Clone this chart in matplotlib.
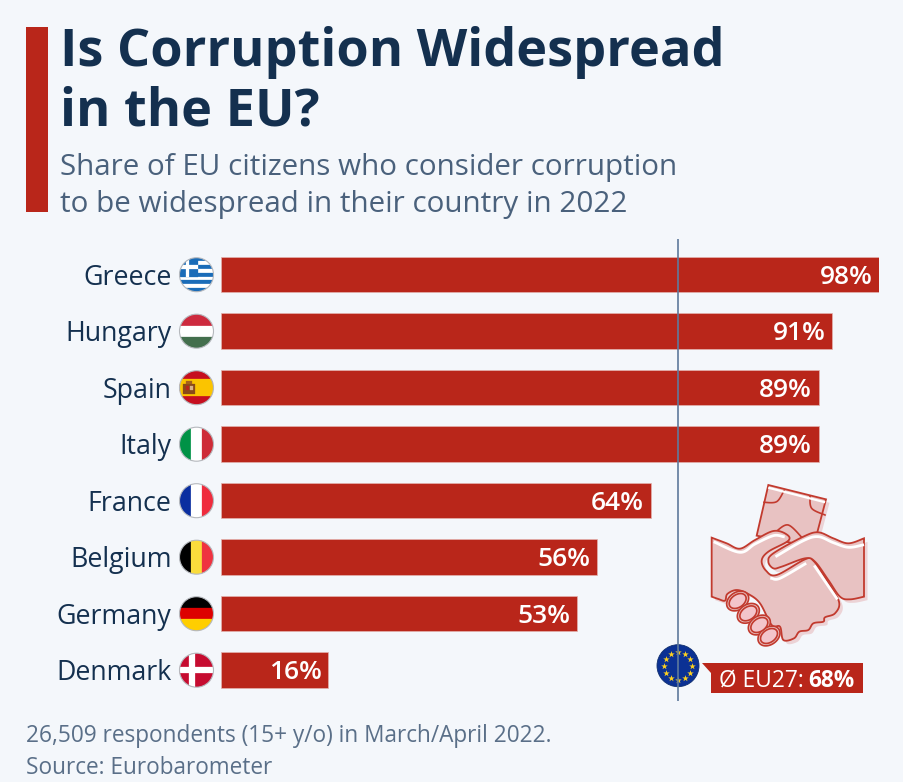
import numpy as np
import matplotlib
matplotlib.use("Agg")
import matplotlib.pyplot as plt
from matplotlib.patches import Circle, Rectangle, Polygon
from matplotlib.markers import MarkerStyle

countries = ["Greece", "Hungary", "Spain", "Italy", "France", "Belgium", "Germany", "Denmark"]
shares = [98, 91, 89, 89, 64, 56, 53, 16]
eu_average = 68

title_lines = ["Is Corruption Widespread", "in the EU?"]
subtitle_lines = ["Share of EU citizens who consider corruption",
                  "to be widespread in their country in 2022"]
footer_lines = ["26,509 respondents (15+ y/o) in March/April 2022.", "Source: Eurobarometer"]

BG = "#f4f7fb"
RED = "#b9261a"
NAVY = "#14304f"
SUB = "#4a617c"
FOOT = "#5a6f88"
W, H = 904, 782
FONT = "Open Sans"
plt.rcParams["font.family"] = [FONT, "DejaVu Sans"]

fig = plt.figure(figsize=(W / 100, H / 100), dpi=100, facecolor=BG)

# overlay in pixel coordinates (layout, flags, illustration)
ov = fig.add_axes([0, 0, 1, 1], zorder=1)
ov.set_xlim(0, W); ov.set_ylim(H, 0); ov.axis("off"); ov.patch.set_alpha(0)

# data axes
X0, X1 = 221, 879
Y_FIRST, STEP = 274.7, 56.5
TOP, BOT = 239, 701
ax = fig.add_axes([X0 / W, 1 - BOT / H, (X1 - X0) / W, (BOT - TOP) / H], zorder=2)
ax.patch.set_alpha(0)
ax.set_xlim(0, max(shares))
ax.set_ylim((BOT - Y_FIRST) / STEP, (TOP - Y_FIRST) / STEP)
ax.axis("off")
ypos = np.arange(len(countries))
ax.barh(ypos, shares, height=35.5 / STEP, color=RED, edgecolor="#e3b3ae", linewidth=0.5, zorder=2)
ax.axvline(eu_average, color="#5f7a9c", lw=1.2, zorder=3)
for y, v in zip(ypos, shares):
    ax.annotate(f"{v}%", (v, y), xytext=(-4.8, 0.3), textcoords="offset points",
                ha="right", va="center_baseline", color="white", fontsize=19, fontweight="semibold", zorder=4)

# header
ov.add_patch(Rectangle((26, 27), 22, 185, color=RED, lw=0))
for t, yb in zip(title_lines, (66, 126)):
    ov.text(59.8, yb, t, fontsize=37.6, fontweight="bold", color=NAVY, va="baseline")
for t, yb in zip(subtitle_lines, (175, 212)):
    ov.text(60, yb, t, fontsize=21.35, color=SUB, va="baseline")
for t, yb in zip(footer_lines, (742, 774)):
    ov.text(26.5, yb, t, fontsize=16.3, color=FOOT, va="baseline")

# flags
FX, R = 196.5, 17


def flag(i, draw):
    cy = Y_FIRST + STEP * i
    clip = Circle((FX, cy), R, transform=ov.transData)
    for p in draw(cy):
        ov.add_patch(p)
        p.set_clip_path(clip)
    ov.add_patch(Circle((FX, cy), R, fill=False, ec="#b5b8bd", lw=0.8))


def rect(x, y, w, h, c):
    return Rectangle((x, y), w, h, fc=c, ec=c, lw=0.2)


def hstripes(cols):
    def d(cy):
        h = 2 * R / len(cols)
        return [rect(FX - R, cy - R + k * h, 2 * R, h, c) for k, c in enumerate(cols)]
    return d


def vstripes(cols):
    def d(cy):
        w = 2 * R / len(cols)
        return [rect(FX - R + k * w, cy - R, w, 2 * R, c) for k, c in enumerate(cols)]
    return d


def greece(cy):
    b, w = "#1a6cb8", "white"
    h = 2 * R / 9
    out = [rect(FX - R, cy - R + k * h, 2 * R, h, b if k % 2 == 0 else w) for k in range(9)]
    out.append(rect(FX - R, cy - R, 5 * h, 5 * h, b))
    out.append(rect(FX - R, cy - R + 2 * h, 5 * h, h, w))
    out.append(rect(FX - R + 1.6 * h, cy - R, h, 5 * h, w))
    return out


def spain(cy):
    return [rect(FX - R, cy - R, 2 * R, 2 * R, "#c60f1f"),
            rect(FX - R, cy - R / 2, 2 * R, R, "#fbc400"),
            rect(FX - 13, cy - 4, 12, 10, "#8a4a18"),
            rect(FX - 10, cy - 7, 6, 3, "#a5601c"),
            rect(FX - 10, cy - 2, 3, 4, "#b8251c"),
            rect(FX - 6.5, cy - 2, 3, 4, "#d9b48a")]


def denmark(cy):
    c = "#c60c30"
    return [rect(FX - R, cy - R, 2 * R, 2 * R, c),
            rect(FX - R, cy - 2.8, 2 * R, 5.6, "white"),
            rect(FX - 7.5, cy - R, 5.6, 2 * R, "white")]


flags = [greece,
         hstripes(["#cd2a3e", "white", "#436f4d"]),
         spain,
         vstripes(["#009246", "white", "#ce2b37"]),
         vstripes(["#0a2ea0", "white", "#ef2b3d"]),
         vstripes(["#000000", "#fadc3c", "#ef3340"]),
         hstripes(["#000000", "#dd0000", "#ffce00"]),
         denmark]
for i, (name, fl) in enumerate(zip(countries, flags)):
    flag(i, fl)
    ov.text(171.5, Y_FIRST + STEP * i - 0.5, name, ha="right", va="center_baseline", fontsize=19.3, color=NAVY)


# illustration; outlines written in zoom-crop units
def zp(pts):
    a = np.asarray(pts, float)
    return a / 3 + np.array([640, 470])


def smooth(pts, n=10):
    p = np.asarray(pts, float)
    q = np.vstack([p[0], p, p[-1]])
    out = []
    for k in range(1, len(q) - 2):
        p0, p1, p2, p3 = q[k - 1], q[k], q[k + 1], q[k + 2]
        for t in np.linspace(0, 1, n, endpoint=False):
            out.append(0.5 * ((2 * p1) + (-p0 + p2) * t + (2 * p0 - 5 * p1 + 4 * p2 - p3) * t ** 2
                              + (-p0 + 3 * p1 - 3 * p2 + p3) * t ** 3))
    out.append(p[-1])
    return np.array(out)


PINK, SHADOW, LINE = "#e8c2c2", "#ecd3d6", "#c23a2e"
money = zp([(385, 45), (558, 88), (520, 232), (350, 197)])
left_hand = [(215, 203), (260, 220), (300, 236), (345, 210), (400, 183), (438, 192), (445, 212), (385, 245), (365, 272),
             (378, 302), (410, 315), (495, 268), (520, 272), (560, 330), (597, 395), (585, 430), (555, 442), (550, 455),
             (520, 460), (505, 480), (478, 485), (462, 505), (430, 510), (420, 470), (395, 465), (360, 400), (325, 372),
             (290, 360), (262, 372), (255, 392), (235, 387), (215, 380)]
right_hand = [(672, 205), (625, 220), (580, 205), (535, 187), (490, 200), (400, 250), (385, 275), (400, 295),
              (425, 290), (495, 265), (525, 275), (565, 330), (600, 380), (630, 388), (672, 380)]
lh, rh = zp(smooth(left_hand)), zp(smooth(right_hand))
off = np.array([3.5, 3.5])
for shape in (money, lh, rh):
    ov.add_patch(Polygon(shape + off, fc=SHADOW, ec="none", zorder=3))
ov.add_patch(Polygon(money, fc=PINK, ec=LINE, lw=1.3, zorder=3.1, joinstyle="miter"))
for arc in ([(372, 97), (410, 95), (432, 62)], [(555, 135), (515, 115), (510, 78)], [(410, 183), (445, 165), (488, 205)]):
    ov.plot(*zp(smooth(arc)).T, color=LINE, lw=1.2, zorder=3.2)
ov.plot(*zp([(388, 54), (552, 96)]).T, color="white", lw=1.6, zorder=3.2)
ov.add_patch(Polygon(lh, fc=PINK, ec=LINE, lw=1.3, zorder=3.3, joinstyle="miter"))
ov.add_patch(Polygon(rh, fc=PINK, ec=LINE, lw=1.3, zorder=3.4, joinstyle="miter"))
for seg in ([(225, 217), (300, 247), (345, 222), (400, 197), (430, 200)],
            [(668, 225), (625, 232), (580, 218), (535, 200), (490, 212), (410, 258)],
            [(395, 325), (420, 325), (495, 282)],
            [(525, 290), (590, 385)]):
    ov.plot(*zp(smooth(seg)).T, color="white", lw=2, zorder=3.5)
t = np.linspace(0, 2 * np.pi, 50)
ca, sa = np.cos(np.radians(-35)), np.sin(np.radians(-35))
for cx, cy in ((293, 393), (325, 430), (358, 465), (387, 498)):
    for ra, rb, fc, z in ((36, 26, PINK, 3.55), (28, 19, "#f3c5cb", 3.6)):
        ex, ey = ra * np.cos(t), rb * np.sin(t)
        f = zp(np.c_[cx + ex * ca - ey * sa, cy + ex * sa + ey * ca])
        ov.add_patch(Polygon(f, fc=fc, ec=LINE, lw=1.2, zorder=z))

# EU average badge
EX, EY = 678, 665.7
ov.add_patch(Circle((EX, EY), 21, fc="#0b3194", ec="#0f2f6e", lw=0.6, zorder=4))
ang = np.radians(np.arange(0, 360, 30))
ov.scatter(EX + 14 * np.cos(ang), EY + 14 * np.sin(ang), marker=MarkerStyle("*"), s=24,
           c="#ffd21f", linewidths=0, zorder=5)
ov.add_patch(Polygon([(701.7, 663), (863, 663), (863, 692.7), (710.7, 692.7), (710.7, 673)],
                     fc=RED, ec="none", zorder=4))
ov.text(719.5, 678, "Ø EU27:", color="white", fontsize=16.4, va="center_baseline", zorder=5)
ov.text(855, 678, f"{eu_average}%", color="white", fontsize=16.3, fontweight="bold", ha="right",
        va="center_baseline", zorder=5)

fig.savefig("out.png", dpi=100, facecolor=BG)
